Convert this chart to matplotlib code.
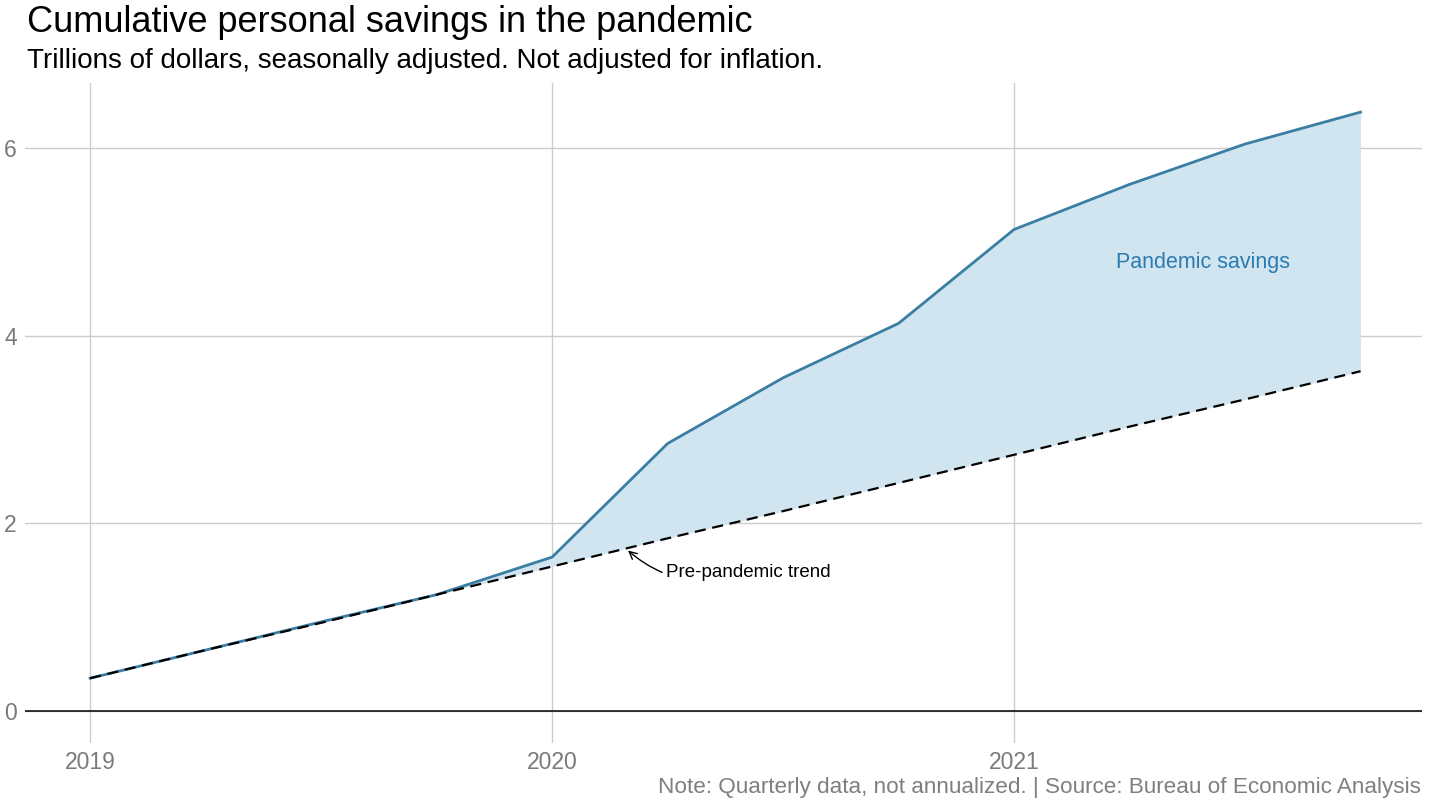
import matplotlib
matplotlib.use("Agg")
import matplotlib.pyplot as plt

plt.rcParams['font.family'] = ['Liberation Sans', 'DejaVu Sans']

quarters = [2019.0, 2019.25, 2019.5, 2019.75, 2020.0, 2020.25, 2020.5, 2020.75,
            2021.0, 2021.25, 2021.5, 2021.75]
actual = [0.35, 0.65, 0.95, 1.24, 1.64, 2.85, 3.55, 4.13, 5.13, 5.61, 6.04, 6.38]
trend = [0.35, 0.65, 0.94, 1.24, 1.54, 1.84, 2.13, 2.43, 2.73, 3.03, 3.32, 3.62]
year_ticks = [2019, 2020, 2021]
y_ticks = [0, 2, 4, 6]

fig = plt.figure(figsize=(14.3, 8.06), dpi=100)
ax = fig.add_axes([25/1430, 1 - 743/806, (1422-25)/1430, (743-83)/806])

ax.fill_between(quarters, trend, actual, color='#d1e5f0', lw=0, zorder=2)
ax.plot(quarters, actual, color='#3b7ea4', lw=2.0, zorder=3)
ax.plot(quarters, trend, color='black', lw=1.6, ls=(0, (5, 3)), zorder=4)
ax.axhline(0, color='black', lw=1.1, zorder=3)

ax.set_xlim(2018.859, 2021.883)
ax.set_ylim(-0.34, 6.69)
ax.set_xticks(year_ticks)
ax.set_xticklabels([str(y) for y in year_ticks])
ax.set_yticks(y_ticks)
ax.grid(True, color='#cccccc', lw=1, zorder=0)
ax.set_axisbelow(True)
for s in ax.spines.values():
    s.set_visible(False)
ax.tick_params(length=0, labelsize=16.5, labelcolor='#7a7a7a', pad=6)
ax.tick_params(axis='x', pad=6)

ax.text(2021.41, 4.78, 'Pandemic savings', color='#2c7bb0', fontsize=15.5,
        ha='center', va='center', zorder=5)
ax.annotate('Pre-pandemic trend', xy=(2020.162, 1.72), xytext=(2020.247, 1.48),
            fontsize=13.5, ha='left', va='center', color='black',
            arrowprops=dict(arrowstyle='->', color='black', lw=1,
                            connectionstyle='arc3,rad=-0.3', shrinkA=1, shrinkB=1),
            zorder=6)

fig.text(27/1430, 1 - 22/806, 'Cumulative personal savings in the pandemic',
         fontsize=26, ha='left', va='center')
fig.text(27/1430, 1 - 61/806, 'Trillions of dollars, seasonally adjusted. Not adjusted for inflation.',
         fontsize=20, ha='left', va='center')
fig.text(1421/1430, 1 - 787/806,
         'Note: Quarterly data, not annualized. | Source: Bureau of Economic Analysis',
         fontsize=16.2, ha='right', va='center', color='#7f7f7f')

fig.savefig('out.png', dpi=100, facecolor='white')
